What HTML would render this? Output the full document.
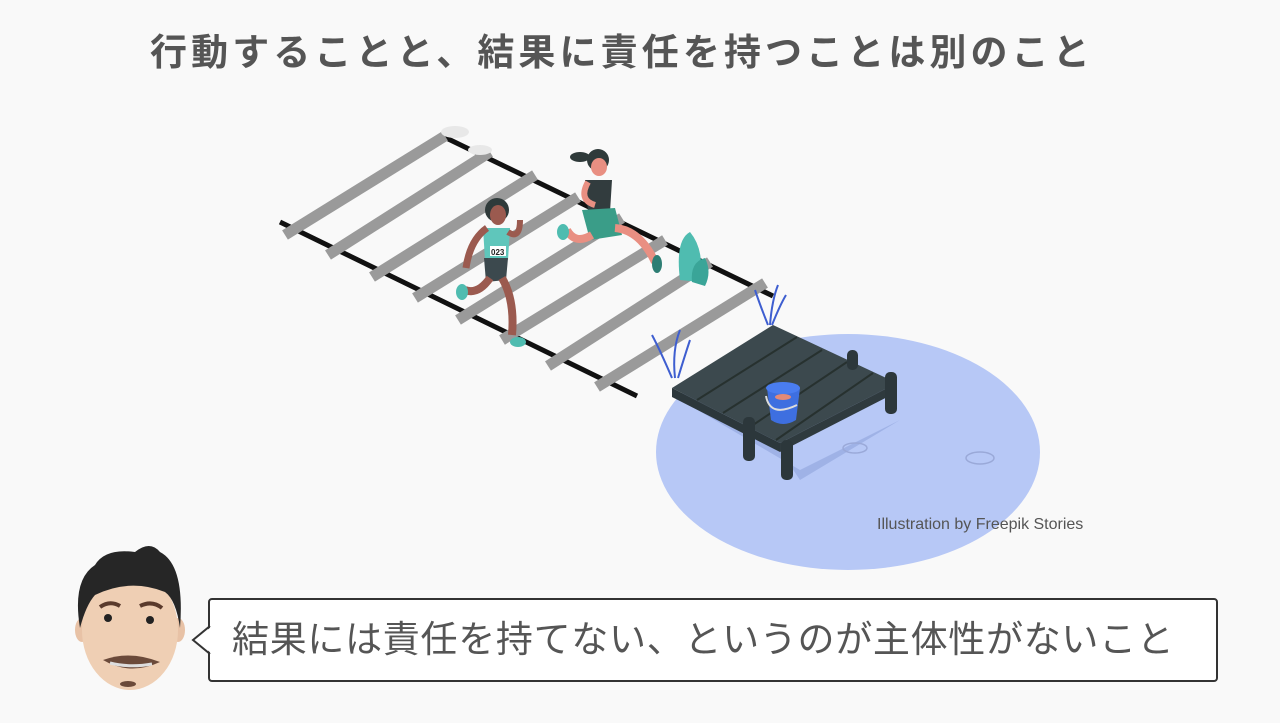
<!DOCTYPE html>
<html><head><meta charset="utf-8"><style>
html,body{margin:0;padding:0;background:#f9f9f9;}
body{width:1280px;height:723px;overflow:hidden;position:relative;font-family:"Liberation Sans","Noto Sans CJK JP",sans-serif;}
.t{position:absolute;left:150px;top:28px;font-size:37px;font-weight:bold;color:#555;white-space:nowrap;letter-spacing:4.1px;line-height:50px;}
.cr{position:absolute;left:877px;top:516px;font-size:16px;color:#555;white-space:nowrap;}
.b{position:absolute;left:208px;top:598px;width:1006px;height:80px;border:2px solid #333;border-radius:4px;background:#fff;}
.bt{position:absolute;left:232px;top:612px;font-size:37px;color:#555;white-space:nowrap;line-height:56px;letter-spacing:0.7px;}
</style></head><body>
<svg width="1280" height="723" style="position:absolute;left:0;top:0">
<ellipse cx="848" cy="452" rx="192" ry="118" fill="#b7c8f6"/>
<line x1="280" y1="222" x2="637" y2="396" stroke="#111" stroke-width="5"/>
<line x1="440" y1="135" x2="773" y2="296" stroke="#111" stroke-width="5"/>
<g stroke="#9a9a9a" stroke-width="11">
<line x1="285" y1="235" x2="445" y2="136"/>
<line x1="328" y1="255" x2="490" y2="152"/>
<line x1="372" y1="277" x2="535" y2="175"/>
<line x1="415" y1="298" x2="578" y2="197"/>
<line x1="458" y1="320" x2="622" y2="218"/>
<line x1="502" y1="340" x2="665" y2="240"/>
<line x1="548" y1="366" x2="710" y2="262"/>
<line x1="597" y1="387" x2="765" y2="283"/>
</g>
<polygon points="672,395 780,450 800,480 900,420 800,470" fill="#9fb2e6"/>
<polygon points="672,388 773,325 897,383 780,443" fill="#3c494e"/>
<polygon points="672,388 780,443 780,452 672,397" fill="#2c373b"/>
<polygon points="780,443 897,383 897,392 780,452" fill="#2f3a3e"/>
<g stroke="#27312f" stroke-width="2">
<line x1="697" y1="400" x2="797" y2="337"/>
<line x1="723" y1="413" x2="822" y2="350"/>
<line x1="750" y1="427" x2="847" y2="362"/>
<line x1="776" y1="440" x2="873" y2="373"/>
</g>
<rect x="743" y="417" width="12" height="44" rx="5" fill="#2c373b"/>
<rect x="781" y="440" width="12" height="40" rx="5" fill="#2c373b"/>
<rect x="885" y="372" width="12" height="42" rx="5" fill="#2c373b"/>
<rect x="847" y="350" width="11" height="20" rx="5" fill="#2c373b"/>
<path d="M767 388 L771 420 Q783 428 796 420 L800 388 Z" fill="#3e6fe0"/>
<ellipse cx="783" cy="388" rx="17" ry="6" fill="#4a7df0"/>
<ellipse cx="783" cy="397" rx="8" ry="3" fill="#e48a78"/>
<path d="M766 396 Q770 418 797 405" fill="none" stroke="#ddd" stroke-width="2"/>
<ellipse cx="980" cy="458" rx="14" ry="6" fill="none" stroke="#9aa9d8" stroke-width="1.5"/>
<ellipse cx="855" cy="448" rx="12" ry="5" fill="none" stroke="#9aa9d8" stroke-width="1.5"/>
<g stroke="#3e5ed0" stroke-width="2" fill="none">
<path d="M672 378 Q660 350 652 335"/><path d="M675 378 Q672 350 680 330"/><path d="M678 378 Q685 355 690 340"/>
<path d="M768 325 Q760 305 755 290"/><path d="M770 325 Q772 300 778 285"/><path d="M772 325 Q780 305 786 295"/>
</g>
<g>
<circle cx="497" cy="210" r="12" fill="#2f3a3a"/>
<ellipse cx="498" cy="215" rx="8" ry="10" fill="#9b5a4f"/>
<path d="M483 228 L510 228 L508 260 L485 260 Z" fill="#5fc6bb"/>
<rect x="490" y="246" width="16" height="10" fill="#fff"/>
<text x="491" y="255" font-size="8" font-weight="bold" fill="#222" font-family="Liberation Sans">023</text>
<path d="M484 258 L508 258 L506 280 L486 282 Z" fill="#3c494e"/>
<path d="M487 228 Q470 240 466 268" stroke="#9b5a4f" stroke-width="7" fill="none"/>
<path d="M508 232 Q520 240 520 220" stroke="#9b5a4f" stroke-width="6" fill="none"/>
<path d="M490 278 Q478 295 465 290" stroke="#9b5a4f" stroke-width="8" fill="none"/>
<path d="M502 278 Q515 300 512 335" stroke="#9b5a4f" stroke-width="8" fill="none"/>
<ellipse cx="462" cy="292" rx="6" ry="8" fill="#4fbcb0"/>
<ellipse cx="518" cy="342" rx="8" ry="5" fill="#4fbcb0"/>
</g>
<g>
<ellipse cx="580" cy="157" rx="10" ry="5" fill="#2f3a3a"/>
<circle cx="598" cy="160" r="11" fill="#2f3a3a"/>
<ellipse cx="599" cy="167" rx="8" ry="9" fill="#e98f82"/>
<path d="M585 180 L612 180 L610 212 L588 212 Z" fill="#323c3e"/>
<path d="M582 210 L615 208 L622 235 L590 240 Z" fill="#3a9d88"/>
<path d="M588 182 Q578 200 595 205" stroke="#e98f82" stroke-width="6" fill="none"/>
<path d="M592 235 Q575 245 567 230" stroke="#e98f82" stroke-width="8" fill="none"/>
<path d="M615 228 Q640 230 655 262" stroke="#e98f82" stroke-width="8" fill="none"/>
<ellipse cx="563" cy="232" rx="6" ry="8" fill="#4fbcb0"/>
<ellipse cx="657" cy="264" rx="5" ry="9" fill="#2e7e74"/>
</g>
<path d="M680 280 Q675 240 690 232 Q705 250 700 282 Z" fill="#4fbcb0"/>
<path d="M692 282 Q690 262 705 258 Q712 272 705 286 Z" fill="#3aa598"/>
<ellipse cx="455" cy="132" rx="14" ry="6" fill="#e8e8e8"/>
<ellipse cx="480" cy="150" rx="12" ry="5" fill="#e8e8e8"/>
<ellipse cx="82" cy="630" rx="7" ry="12" fill="#e8c2a6"/>
<ellipse cx="178" cy="630" rx="7" ry="12" fill="#e8c2a6"/>
<ellipse cx="130" cy="630" rx="48" ry="60" fill="#efcfb4"/>
<path d="M80 628 Q72 580 95 565 Q105 548 135 552 Q150 540 160 552 Q185 565 180 628 Q176 600 165 592 Q130 578 95 595 Q86 605 80 628 Z" fill="#262626"/>
<path d="M100 607 Q110 600 120 606" stroke="#5a3a2c" stroke-width="4" fill="none"/>
<path d="M140 606 Q152 600 162 608" stroke="#5a3a2c" stroke-width="4" fill="none"/>
<circle cx="108" cy="618" r="4" fill="#222"/><circle cx="150" cy="620" r="4" fill="#222"/>
<path d="M103 660 Q130 650 160 662 Q130 676 103 660 Z" fill="#6b4a3a"/>
<path d="M110 663 Q130 668 152 664" stroke="#ddd" stroke-width="3" fill="none"/>
<ellipse cx="128" cy="684" rx="8" ry="3" fill="#6b4a3a"/>
</svg>
<div class="t">行動することと、結果に責任を持つことは別のこと</div>
<div class="cr">Illustration by Freepik Stories</div>
<div class="b"></div>
<svg width="1280" height="723" style="position:absolute;left:0;top:0"><polygon points="195,640 211,627 211,653" fill="#fff"/><polyline points="210,626 193,640 210,654" fill="none" stroke="#333" stroke-width="2"/></svg>
<div class="bt">結果には責任を持てない、というのが主体性がないこと</div>
</body></html>
